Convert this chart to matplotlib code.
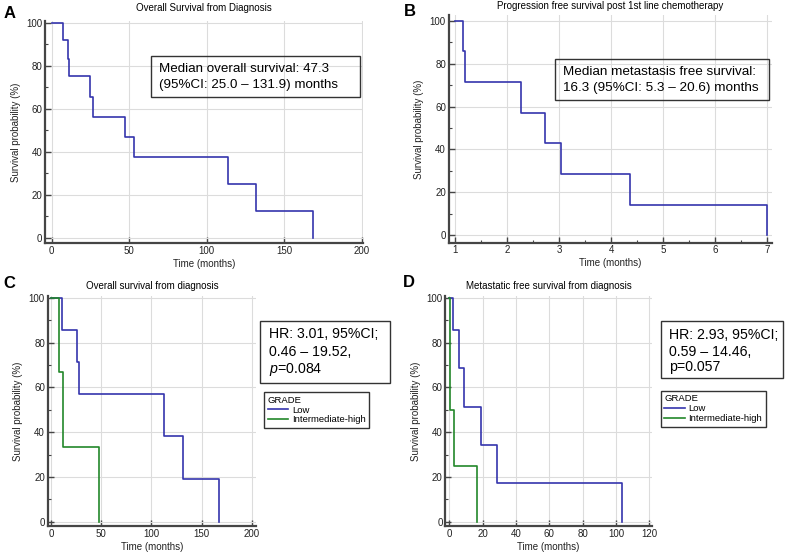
import matplotlib
matplotlib.use("Agg")
import matplotlib.pyplot as plt
from matplotlib.patches import Rectangle
from matplotlib.lines import Line2D
from matplotlib.ticker import MultipleLocator

plt.rcParams["font.family"] = ["Liberation Sans", "DejaVu Sans"]
plt.rcParams["mathtext.fontset"] = "custom"
plt.rcParams["mathtext.rm"] = "Liberation Sans"
plt.rcParams["mathtext.it"] = "Liberation Sans:italic"

# A: overall survival from diagnosis (months, %)
os_time = [0, 7.5, 10.3, 11.2, 25.0, 26.5, 47.3, 53.1, 113.5, 131.9, 168.4]
os_surv = [100, 91.7, 83.3, 75.0, 65.6, 56.2, 46.9, 37.5, 25.0, 12.5, 0]

# B: progression free survival post 1st line chemotherapy
pfs_time = [1.0, 1.14, 1.18, 2.27, 2.72, 3.03, 4.36, 7.0]
pfs_surv = [100, 85.7, 71.4, 57.1, 42.9, 28.6, 14.3, 0]

# C: overall survival by grade
c_low_time = [0, 11.0, 25.6, 27.6, 112.0, 131.6, 167.1]
c_low_surv = [100, 85.7, 71.4, 57.1, 38.1, 19.0, 0]
c_high_time = [0, 8.3, 12.0, 47.8]
c_high_surv = [100, 66.7, 33.3, 0]

# D: metastatic free survival by grade
d_low_time = [0, 2.2, 5.6, 8.6, 19.0, 28.8, 103.4]
d_low_surv = [100, 85.7, 68.6, 51.4, 34.3, 17.1, 0]
d_high_time = [0, 0.5, 2.6, 16.8]
d_high_surv = [100, 50.0, 25.0, 0]

grade_labels = ["Low", "Intermediate-high"]

BLUE = "#3535ad"
GREEN = "#23872a"
SPINE = "#454545"
W, H = 785, 553

fig = plt.figure(figsize=(W / 100, H / 100), dpi=100)


def px_axes(l, t, r, b):
    return fig.add_axes([l / W, 1 - b / H, (r - l) / W, (b - t) / H])


def fxy(x, y):
    return x / W, 1 - y / H


def style(ax, xmajor, xminor=None):
    for s in ["top", "right"]:
        ax.spines[s].set_visible(False)
    for s in ["left", "bottom"]:
        ax.spines[s].set_color(SPINE)
        ax.spines[s].set_linewidth(1.6)
    ax.xaxis.set_major_locator(MultipleLocator(xmajor))
    if xminor:
        ax.xaxis.set_minor_locator(MultipleLocator(xminor))
    ax.yaxis.set_major_locator(MultipleLocator(20))
    ax.yaxis.set_minor_locator(MultipleLocator(10))
    ax.tick_params(which="major", direction="in", length=4, width=1,
                   color=SPINE, labelsize=7, pad=2, labelcolor="#222222")
    ax.tick_params(which="minor", direction="in", length=2, width=0.8,
                   color=SPINE)
    ax.grid(True, which="major", color="#dcdcdc", linewidth=0.8)
    ax.set_axisbelow(True)
    ax.set_ylabel("Survival probability (%)", fontsize=7, labelpad=4,
                  color="#222222")
    ax.set_xlabel("Time (months)", fontsize=7, labelpad=2, color="#222222")


def box(x0, y0, x1, y1):
    fig.patches.append(Rectangle(fxy(x0, y1), (x1 - x0) / W, (y1 - y0) / H,
                                 transform=fig.transFigure, fill=False,
                                 edgecolor="#333333", linewidth=1.0))


# Panel A
axA = px_axes(45, 20.7, 363, 243.3)
axA.step(os_time, os_surv, where="post", color=BLUE, lw=1.2)
axA.set_xlim(-4.3, 200.8)
axA.set_ylim(-2.6, 100.9)
style(axA, 50)
axA.set_title("Overall Survival from Diagnosis", fontsize=7, pad=7)

# Panel B
axB = px_axes(448.7, 15, 772, 242.7)
axB.step(pfs_time, pfs_surv, where="post", color=BLUE, lw=1.2)
axB.set_xlim(0.873, 7.09)
axB.set_ylim(-3.4, 102.6)
style(axB, 1, 0.5)
axB.set_title("Progression free survival post 1st line chemotherapy",
              fontsize=7, pad=4)

# Panel C
axC = px_axes(47.7, 296, 256, 526)
axC.step(c_low_time, c_low_surv, where="post", color=BLUE, lw=1.2)
axC.step(c_high_time, c_high_surv, where="post", color=GREEN, lw=1.2)
axC.set_xlim(-3.3, 204)
axC.set_ylim(-1.9, 100.8)
style(axC, 50)
axC.set_title("Overall survival from diagnosis", fontsize=7, pad=5)

# Panel D
axD = px_axes(445.3, 296, 652, 526)
axD.step(d_low_time, d_low_surv, where="post", color=BLUE, lw=1.2)
axD.step(d_high_time, d_high_surv, where="post", color=GREEN, lw=1.2)
axD.set_xlim(-2.4, 121.6)
axD.set_ylim(-1.9, 100.8)
style(axD, 20)
axD.set_title("Metastatic free survival from diagnosis", fontsize=7, pad=5)

# panel letters
for letter, (x, y) in zip("ABCD", [(9.3, 13.7), (409.5, 11.7),
                                   (9, 283.7), (408.7, 282.5)]):
    fig.text(*fxy(x, y), letter, fontsize=12, fontweight="bold",
             ha="center", va="center")

# annotation boxes
box(150.7, 56, 360, 96.7)
fig.text(*fxy(159.3, 69.3), "Median overall survival: 47.3",
         fontsize=9.6, va="center")
fig.text(*fxy(159.3, 85), "(95%CI: 25.0 \u2013 131.9) months",
         fontsize=9.6, va="center")

box(554.7, 59, 768.7, 100)
fig.text(*fxy(563, 71.7), "Median metastasis free survival:",
         fontsize=9.7, va="center")
fig.text(*fxy(563, 88.3), "16.3 (95%CI: 5.3 \u2013 20.6) months",
         fontsize=9.7, va="center")

box(260, 321, 390, 383)
for yy, s in zip([333.5, 352, 369.5],
                 ["HR: 3.01, 95%CI;", "0.46 \u2013 19.52,", "$\\mathit{p}$=0.084"]):
    fig.text(*fxy(269.3, yy), s, fontsize=10.2, va="center")

box(660.7, 321, 782.7, 378.3)
for yy, s in zip([335, 352, 367.5],
                 ["HR: 2.93, 95%CI;", "0.59 \u2013 14.46,", "p=0.057"]):
    fig.text(*fxy(669.3, yy), s, fontsize=10.2, va="center")

# legends
for lx, ly in [(264.3, 392.3), (660.7, 391)]:
    handles = [Line2D([], [], color=BLUE, lw=1.2),
               Line2D([], [], color=GREEN, lw=1.2)]
    leg = fig.legend(handles, grade_labels, title="GRADE", loc="upper left",
                     bbox_to_anchor=fxy(lx, ly), fontsize=6.8,
                     title_fontsize=6.8, alignment="left", frameon=True,
                     fancybox=False, edgecolor="#333333", framealpha=1,
                     borderpad=0.35, labelspacing=0.1, handlelength=2.2,
                     handletextpad=0.4, borderaxespad=0)
    leg.get_frame().set_linewidth(1.0)

fig.savefig("out.png", dpi=100)
